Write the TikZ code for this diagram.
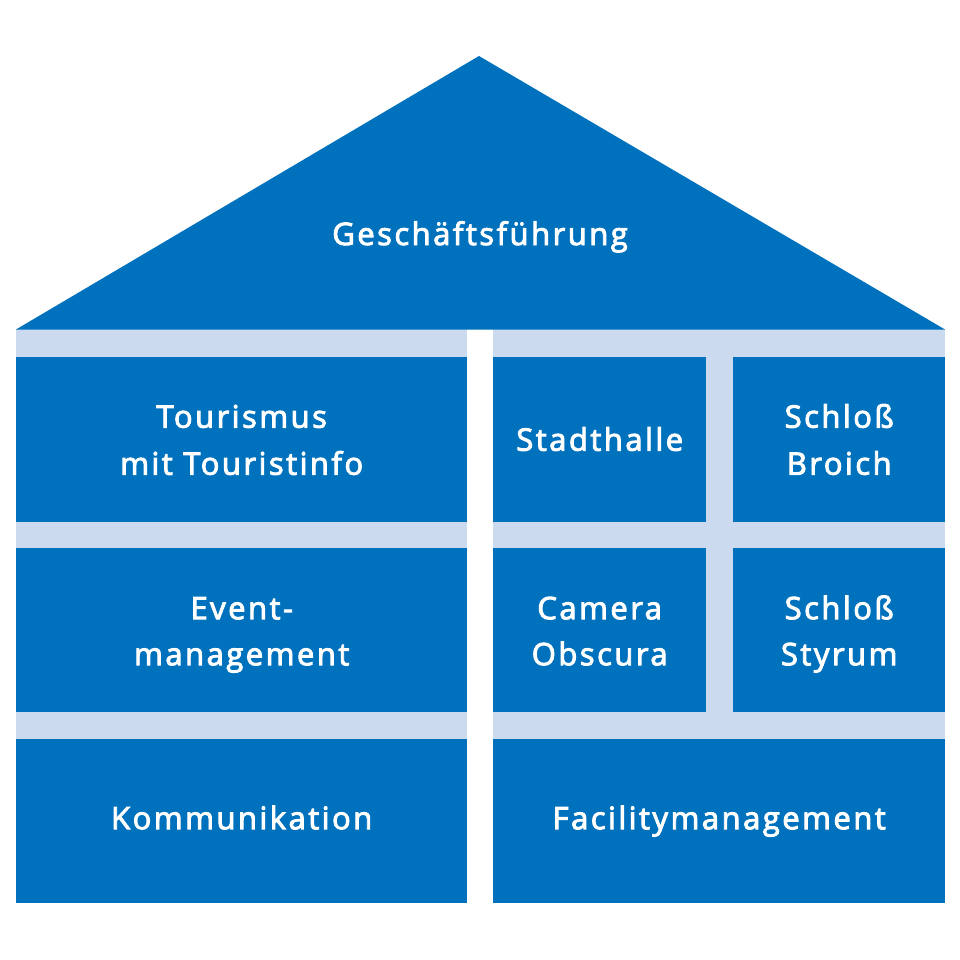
\documentclass[tikz,border=0pt]{standalone}
\usepackage{fontspec}
\setmainfont{Open Sans}[LetterSpace=8,FakeBold=3]
\definecolor{hblue}{RGB}{0,113,189}
\definecolor{hlight}{RGB}{204,218,240}
\begin{document}
\begin{tikzpicture}[x=1pt,y=-1pt,
  box/.style={fill=hblue,draw=none,inner sep=0pt,anchor=north west},
  lbl/.style={text=white,inner sep=0pt,anchor=base,font=\fontsize{31}{46}\selectfont},
  band/.style={fill=hlight,draw=none}]
\useasboundingbox (0,0) rectangle (960,960);
% light background bands
\fill[band] (16,329) rectangle (467,903);
\fill[band] (493,329) rectangle (945,903);
% roof
\fill[hblue] (16,329.5) -- (479,56) -- (945,329.5) -- cycle;
\node[lbl] (gf) at (480,245) {Geschäftsführung};
% left column
\node[box,minimum width=451pt,minimum height=165pt] (tour) at (16,357) {};
\node[box,minimum width=451pt,minimum height=164pt] (event) at (16,548) {};
\node[box,minimum width=451pt,minimum height=164pt] (komm) at (16,739) {};
% right column
\node[box,minimum width=213pt,minimum height=165pt] (stadt) at (493,357) {};
\node[box,minimum width=212pt,minimum height=165pt] (broich) at (733,357) {};
\node[box,minimum width=213pt,minimum height=164pt] (camera) at (493,548) {};
\node[box,minimum width=212pt,minimum height=164pt] (styrum) at (733,548) {};
\node[box,minimum width=452pt,minimum height=164pt] (facil) at (493,739) {};
% labels
\node[lbl] (tour1) at ([yshift=12pt]tour.center) {Tourismus};
\node[lbl] (tour2) at ([yshift=-35pt]tour.center) {mit Touristinfo};
\node[lbl] (event1) at ([yshift=11pt]event.center) {Event-};
\node[lbl] (event2) at ([yshift=-35pt]event.center) {management};
\node[lbl] (komm1) at ([yshift=-8pt]komm.center) {Kommunikation};
\node[lbl] (stadt1) at ([yshift=-11pt]stadt.center) {Stadthalle};
\node[lbl] (broich1) at ([yshift=12pt]broich.center) {Schloß};
\node[lbl] (broich2) at ([yshift=-35pt]broich.center) {Broich};
\node[lbl] (camera1) at ([yshift=11pt]camera.center) {Camera};
\node[lbl] (camera2) at ([yshift=-35pt]camera.center) {Obscura};
\node[lbl] (styrum1) at ([yshift=11pt]styrum.center) {Schloß};
\node[lbl] (styrum2) at ([yshift=-35pt]styrum.center) {Styrum};
\node[lbl] (facil1) at ([yshift=-8pt]facil.center) {Facilitymanagement};
\end{tikzpicture}
\end{document}
